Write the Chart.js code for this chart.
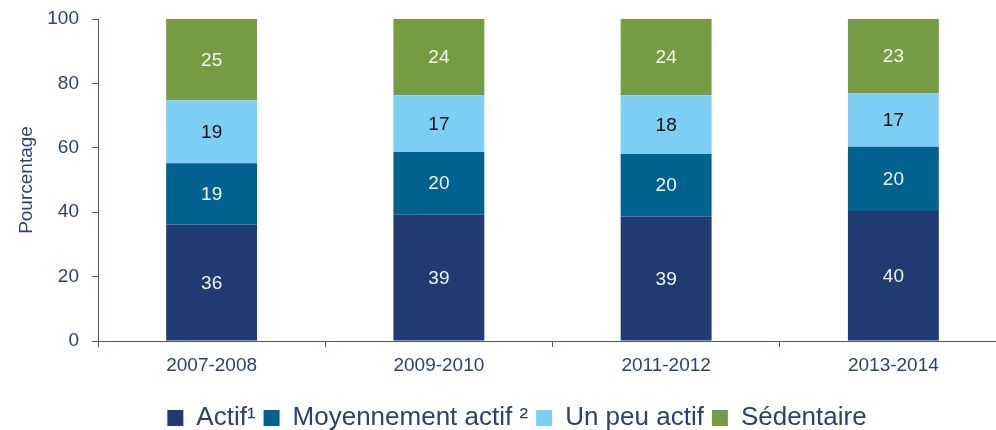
<!DOCTYPE html>
<html>
<head>
<meta charset="utf-8">
<script src="https://cdn.jsdelivr.net/npm/chart.js@4.4.1/dist/chart.umd.min.js"></script>
<style>
  html, body { margin: 0; padding: 0; background: #ffffff; overflow: hidden; }
  #wrap { width: 1008px; height: 430px; }
</style>
</head>
<body>
<div id="wrap"><canvas id="c" width="1008" height="430"></canvas></div>
<script>
// ---- Data ----
const categories = ["2007-2008", "2009-2010", "2011-2012", "2013-2014"];
const seriesNames = ["Actif\u00B9", "Moyennement actif \u00B2", "Un peu actif", "Sédentaire"];
// segment heights (percent)
const actif = [36.2, 39.3, 38.7, 40.4];
const moyennement = [19.0, 19.4, 19.4, 19.9];
const unPeu = [19.6, 17.6, 18.2, 16.6];
const sedentaire = [25.2, 23.7, 23.7, 23.1];
// labels printed on the segments
const actifLabels = [36, 39, 39, 40];
const moyennementLabels = [19, 20, 20, 20];
const unPeuLabels = [19, 17, 18, 17];
const sedentaireLabels = [25, 24, 24, 23];
const yTicks = [0, 20, 40, 60, 80, 100];

const FONT = "'Liberation Sans', Arial, Helvetica, sans-serif";
const AXIS_TEXT = "#2C3E7C";
const AXIS_LINE = "#44558C";

const segLabels = [actifLabels, moyennementLabels, unPeuLabels, sedentaireLabels];
const labelColors = ["#F4F4F4", "#F4F4F4", "#111111", "#F4F4F4"];

const labelPlugin = {
  id: 'segLabels',
  afterDatasetsDraw(chart) {
    const ctx = chart.ctx;
    ctx.save();
    ctx.font = "19px " + FONT;
    ctx.textAlign = "center";
    ctx.textBaseline = "middle";
    chart.data.datasets.forEach((ds, di) => {
      const meta = chart.getDatasetMeta(di);
      meta.data.forEach((el, i) => {
        const cy = (el.y + el.base) / 2;
        ctx.fillStyle = labelColors[di];
        ctx.fillText(String(segLabels[di][i]), el.x, cy + 1);
      });
    });
    ctx.restore();
  }
};

const colors = ["#203A72", "#00638F", "#7DCEF5", "#759C43"];
const values = [actif, moyennement, unPeu, sedentaire];

new Chart(document.getElementById('c'), {
  type: 'bar',
  data: {
    labels: categories,
    datasets: seriesNames.map((n, i) => ({
      label: n,
      data: values[i],
      backgroundColor: colors[i],
      borderWidth: 0,
      barPercentage: 0.4,
      categoryPercentage: 1.0
    }))
  },
  options: {
    responsive: false,
    devicePixelRatio: 1,
    animation: false,
    layout: { padding: { top: 19, right: 1, left: 27, bottom: -11 } },
    plugins: {
      tooltip: { enabled: false },
      legend: {
        position: 'bottom',
        align: 'center',
        labels: {
          font: { family: FONT, size: 26 },
          color: AXIS_TEXT,
          boxWidth: 16,
          boxHeight: 16,
          padding: 8
        }
      }
    },
    scales: {
      x: {
        stacked: true,
        afterFit(scale) { scale.height = 56; },
        grid: { display: true, drawOnChartArea: false, drawTicks: true, tickLength: 6, color: AXIS_LINE, offset: true },
        border: { display: true, color: AXIS_LINE, width: 1 },
        ticks: { font: { family: FONT, size: 19 }, color: AXIS_TEXT, padding: 7 }
      },
      y: {
        stacked: true,
        min: 0,
        max: 100,
        afterBuildTicks(scale) { scale.ticks = yTicks.map(v => ({ value: v })); },
        afterFit(scale) { scale.width = 71; scale.paddingTop = 0; },
        grid: { display: true, drawOnChartArea: false, drawTicks: true, tickLength: 6, color: AXIS_LINE },
        border: { display: true, color: AXIS_LINE, width: 1 },
        ticks: { font: { family: FONT, size: 19 }, color: AXIS_TEXT, padding: 13 },
        title: {
          display: true,
          text: "Pourcentage",
          font: { family: FONT, size: 19 },
          color: AXIS_TEXT,
          padding: { top: -12, bottom: 0 }
        }
      }
    }
  },
  plugins: [labelPlugin]
});
</script>
</body>
</html>
